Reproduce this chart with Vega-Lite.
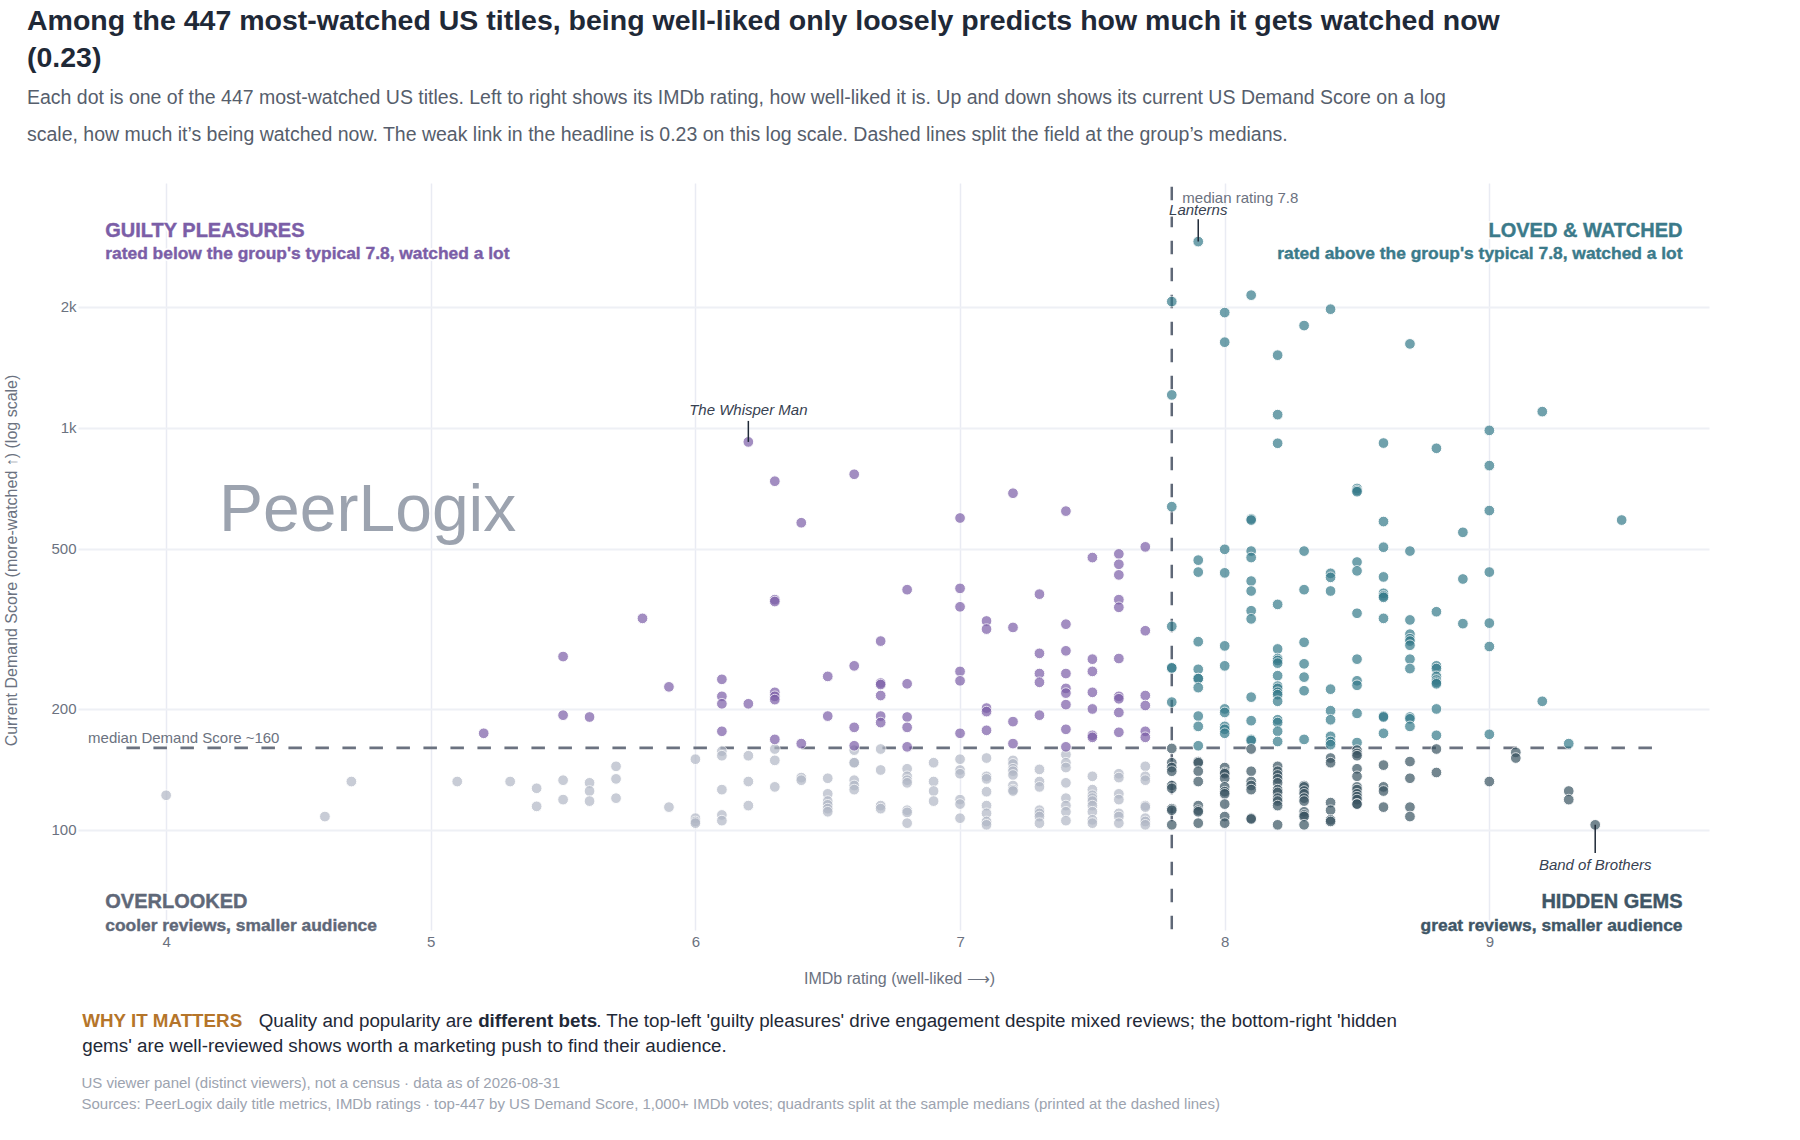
{
  "$schema": "https://vega.github.io/schema/vega-lite/v6.json",
  "width": 1631,
  "height": 747,
  "autosize": "none",
  "padding": {"left": 78, "right": 91, "top": 183, "bottom": 210},
  "background": "white",
  "config": {"font": "Liberation Sans", "view": {"stroke": null}},
  "title": {
    "text": ["Among the 447 most-watched US titles, being well-liked only loosely predicts how much it gets watched now", "(0.23)"],
    "subtitle": ["Each dot is one of the 447 most-watched US titles. Left to right shows its IMDb rating, how well-liked it is. Up and down shows its current US Demand Score on a log", "scale, how much it’s being watched now. The weak link in the headline is 0.23 on this log scale. Dashed lines split the field at the group’s medians."],
    "anchor": "start",
    "frame": "group",
    "dx": -51,
    "offset": 39,
    "fontSize": 28.5,
    "fontWeight": "bold",
    "lineHeight": 37,
    "color": "#1f2937",
    "subtitleFontSize": 19.5,
    "subtitleColor": "#565e6c",
    "subtitleLineHeight": 37,
    "subtitlePadding": 16
  },
  "encoding": {
    "x": {
      "field": "rating",
      "type": "quantitative",
      "scale": {"domain": [3.667, 9.83], "nice": false, "zero": false},
      "axis": {
        "title": "IMDb rating  (well-liked ⟶)",
        "titleFontSize": 16,
        "titleFontWeight": "normal",
        "titleColor": "#6b7280",
        "titlePadding": 21,
        "titleX": 821,
        "values": [4, 5, 6, 7, 8, 9],
        "labelFontSize": 15,
        "labelColor": "#6b7280",
        "labelPadding": 4,
        "ticks": false,
        "domain": false,
        "gridColor": "#e9ebf3",
        "gridWidth": 1.5
      }
    },
    "y": {
      "field": "demand",
      "type": "quantitative",
      "scale": {"type": "log", "domain": [56.4, 4066], "nice": false},
      "axis": {
        "title": "Current Demand Score  (more-watched ↑) (log scale)",
        "titleFontSize": 16,
        "titleFontWeight": "normal",
        "titleColor": "#6b7280",
        "titlePadding": 31,
        "titleY": 377,
        "values": [100, 200, 500, 1000, 2000],
        "labelExpr": "datum.value >= 1000 ? (datum.value / 1000) + 'k' : datum.value",
        "labelFontSize": 15,
        "labelColor": "#6b7280",
        "labelPadding": 2,
        "ticks": false,
        "domain": false,
        "gridColor": "#eef0f5",
        "gridWidth": 2
      }
    }
  },
  "layer": [
    {
      "data": {"values": [{"rating": 7.8, "demand": 3978, "demandEnd": 56.4}]},
      "mark": {"type": "rule", "color": "#5f6877", "strokeWidth": 2.5, "strokeDash": [13.5, 13.5]},
      "encoding": {"y2": {"field": "demandEnd"}}
    },
    {
      "data": {"values": [{"rating": 3.85, "ratingEnd": 9.62, "demand": 160}]},
      "mark": {"type": "rule", "color": "#6b7280", "strokeWidth": 2.8, "strokeDash": [13.5, 13.5]},
      "encoding": {"x2": {"field": "ratingEnd"}}
    },
    {
      "data": {"values": [
        {"rating":4.0,"demand":122,"quadrant":"overlooked"},{"rating":4.6,"demand":108,"quadrant":"overlooked"},{"rating":4.7,"demand":132,"quadrant":"overlooked"},{"rating":5.1,"demand":132,"quadrant":"overlooked"},{"rating":5.3,"demand":132,"quadrant":"overlooked"},
        {"rating":5.4,"demand":127,"quadrant":"overlooked"},{"rating":5.4,"demand":114.5,"quadrant":"overlooked"},{"rating":5.5,"demand":133,"quadrant":"overlooked"},{"rating":5.5,"demand":119,"quadrant":"overlooked"},
        {"rating":5.6,"demand":131,"quadrant":"overlooked"},{"rating":5.6,"demand":125,"quadrant":"overlooked"},{"rating":5.6,"demand":118,"quadrant":"overlooked"},{"rating":5.7,"demand":144,"quadrant":"overlooked"},{"rating":5.7,"demand":134,"quadrant":"overlooked"},{"rating":5.7,"demand":120,"quadrant":"overlooked"},
        {"rating":5.9,"demand":114,"quadrant":"overlooked"},{"rating":6.0,"demand":150,"quadrant":"overlooked"},{"rating":6.0,"demand":107,"quadrant":"overlooked"},{"rating":6.0,"demand":105,"quadrant":"overlooked"},{"rating":6.0,"demand":104,"quadrant":"overlooked"},
        {"rating":6.1,"demand":157,"quadrant":"overlooked"},{"rating":6.1,"demand":153,"quadrant":"overlooked"},{"rating":6.1,"demand":126,"quadrant":"overlooked"},{"rating":6.1,"demand":109,"quadrant":"overlooked"},{"rating":6.1,"demand":105.5,"quadrant":"overlooked"},
        {"rating":6.2,"demand":153,"quadrant":"overlooked"},{"rating":6.2,"demand":132,"quadrant":"overlooked"},{"rating":6.2,"demand":115,"quadrant":"overlooked"},{"rating":6.3,"demand":159,"quadrant":"overlooked"},{"rating":6.3,"demand":149,"quadrant":"overlooked"},{"rating":6.3,"demand":128,"quadrant":"overlooked"},
        {"rating":6.4,"demand":135,"quadrant":"overlooked"},{"rating":6.4,"demand":133,"quadrant":"overlooked"},{"rating":6.5,"demand":134.5,"quadrant":"overlooked"},{"rating":6.5,"demand":123,"quadrant":"overlooked"},{"rating":6.5,"demand":118,"quadrant":"overlooked"},{"rating":6.5,"demand":115.5,"quadrant":"overlooked"},{"rating":6.5,"demand":113,"quadrant":"overlooked"},{"rating":6.5,"demand":111,"quadrant":"overlooked"},
        {"rating":6.6,"demand":158,"quadrant":"overlooked"},{"rating":6.6,"demand":147,"quadrant":"overlooked"},{"rating":6.6,"demand":147,"quadrant":"overlooked"},{"rating":6.6,"demand":133,"quadrant":"overlooked"},{"rating":6.6,"demand":129,"quadrant":"overlooked"},{"rating":6.6,"demand":126,"quadrant":"overlooked"},
        {"rating":6.7,"demand":159,"quadrant":"overlooked"},{"rating":6.7,"demand":141,"quadrant":"overlooked"},{"rating":6.7,"demand":115,"quadrant":"overlooked"},{"rating":6.7,"demand":113,"quadrant":"overlooked"},
        {"rating":6.8,"demand":142,"quadrant":"overlooked"},{"rating":6.8,"demand":136,"quadrant":"overlooked"},{"rating":6.8,"demand":133,"quadrant":"overlooked"},{"rating":6.8,"demand":131,"quadrant":"overlooked"},{"rating":6.8,"demand":112,"quadrant":"overlooked"},{"rating":6.8,"demand":110.6,"quadrant":"overlooked"},{"rating":6.8,"demand":104,"quadrant":"overlooked"},
        {"rating":6.9,"demand":147,"quadrant":"overlooked"},{"rating":6.9,"demand":132,"quadrant":"overlooked"},{"rating":6.9,"demand":125,"quadrant":"overlooked"},{"rating":6.9,"demand":118,"quadrant":"overlooked"},
        {"rating":7.0,"demand":150,"quadrant":"overlooked"},{"rating":7.0,"demand":141,"quadrant":"overlooked"},{"rating":7.0,"demand":138,"quadrant":"overlooked"},{"rating":7.0,"demand":119,"quadrant":"overlooked"},{"rating":7.0,"demand":116,"quadrant":"overlooked"},{"rating":7.0,"demand":107,"quadrant":"overlooked"},
        {"rating":7.1,"demand":151,"quadrant":"overlooked"},{"rating":7.1,"demand":136,"quadrant":"overlooked"},{"rating":7.1,"demand":134,"quadrant":"overlooked"},{"rating":7.1,"demand":124.5,"quadrant":"overlooked"},{"rating":7.1,"demand":115,"quadrant":"overlooked"},{"rating":7.1,"demand":110,"quadrant":"overlooked"},{"rating":7.1,"demand":105,"quadrant":"overlooked"},{"rating":7.1,"demand":103,"quadrant":"overlooked"},
        {"rating":7.2,"demand":149,"quadrant":"overlooked"},{"rating":7.2,"demand":146,"quadrant":"overlooked"},{"rating":7.2,"demand":142,"quadrant":"overlooked"},{"rating":7.2,"demand":140,"quadrant":"overlooked"},{"rating":7.2,"demand":137,"quadrant":"overlooked"},{"rating":7.2,"demand":129,"quadrant":"overlooked"},{"rating":7.2,"demand":126,"quadrant":"overlooked"},{"rating":7.2,"demand":125,"quadrant":"overlooked"},
        {"rating":7.3,"demand":141.5,"quadrant":"overlooked"},{"rating":7.3,"demand":132,"quadrant":"overlooked"},{"rating":7.3,"demand":128,"quadrant":"overlooked"},{"rating":7.3,"demand":112,"quadrant":"overlooked"},{"rating":7.3,"demand":110,"quadrant":"overlooked"},{"rating":7.3,"demand":108,"quadrant":"overlooked"},{"rating":7.3,"demand":104,"quadrant":"overlooked"},
        {"rating":7.4,"demand":154,"quadrant":"overlooked"},{"rating":7.4,"demand":147,"quadrant":"overlooked"},{"rating":7.4,"demand":143,"quadrant":"overlooked"},{"rating":7.4,"demand":131,"quadrant":"overlooked"},{"rating":7.4,"demand":120,"quadrant":"overlooked"},{"rating":7.4,"demand":115,"quadrant":"overlooked"},{"rating":7.4,"demand":111,"quadrant":"overlooked"},{"rating":7.4,"demand":105.5,"quadrant":"overlooked"},
        {"rating":7.5,"demand":136,"quadrant":"overlooked"},{"rating":7.5,"demand":126,"quadrant":"overlooked"},{"rating":7.5,"demand":122,"quadrant":"overlooked"},{"rating":7.5,"demand":120,"quadrant":"overlooked"},{"rating":7.5,"demand":118,"quadrant":"overlooked"},{"rating":7.5,"demand":115,"quadrant":"overlooked"},{"rating":7.5,"demand":111,"quadrant":"overlooked"},{"rating":7.5,"demand":106,"quadrant":"overlooked"},{"rating":7.5,"demand":104,"quadrant":"overlooked"},
        {"rating":7.6,"demand":138,"quadrant":"overlooked"},{"rating":7.6,"demand":135,"quadrant":"overlooked"},{"rating":7.6,"demand":123,"quadrant":"overlooked"},{"rating":7.6,"demand":119,"quadrant":"overlooked"},{"rating":7.6,"demand":110,"quadrant":"overlooked"},{"rating":7.6,"demand":108,"quadrant":"overlooked"},{"rating":7.6,"demand":104,"quadrant":"overlooked"},
        {"rating":7.7,"demand":144,"quadrant":"overlooked"},{"rating":7.7,"demand":136,"quadrant":"overlooked"},{"rating":7.7,"demand":133,"quadrant":"overlooked"},{"rating":7.7,"demand":115,"quadrant":"overlooked"},{"rating":7.7,"demand":114,"quadrant":"overlooked"},{"rating":7.7,"demand":107,"quadrant":"overlooked"},{"rating":7.7,"demand":105,"quadrant":"overlooked"},{"rating":7.7,"demand":103,"quadrant":"overlooked"},

        {"rating":5.2,"demand":174,"quadrant":"guilty"},{"rating":5.5,"demand":270,"quadrant":"guilty"},{"rating":5.5,"demand":193,"quadrant":"guilty"},{"rating":5.6,"demand":191,"quadrant":"guilty"},{"rating":5.8,"demand":336,"quadrant":"guilty"},{"rating":5.9,"demand":227,"quadrant":"guilty"},
        {"rating":6.1,"demand":237,"quadrant":"guilty"},{"rating":6.1,"demand":215,"quadrant":"guilty"},{"rating":6.1,"demand":206,"quadrant":"guilty"},{"rating":6.1,"demand":176,"quadrant":"guilty"},{"rating":6.2,"demand":923,"quadrant":"guilty"},{"rating":6.2,"demand":206,"quadrant":"guilty"},
        {"rating":6.3,"demand":737,"quadrant":"guilty"},{"rating":6.3,"demand":374,"quadrant":"guilty"},{"rating":6.3,"demand":370,"quadrant":"guilty"},{"rating":6.3,"demand":220,"quadrant":"guilty"},{"rating":6.3,"demand":215,"quadrant":"guilty"},{"rating":6.3,"demand":211,"quadrant":"guilty"},{"rating":6.3,"demand":168,"quadrant":"guilty"},
        {"rating":6.4,"demand":581,"quadrant":"guilty"},{"rating":6.4,"demand":164,"quadrant":"guilty"},{"rating":6.5,"demand":241,"quadrant":"guilty"},{"rating":6.5,"demand":192,"quadrant":"guilty"},{"rating":6.6,"demand":767,"quadrant":"guilty"},{"rating":6.6,"demand":256,"quadrant":"guilty"},{"rating":6.6,"demand":180,"quadrant":"guilty"},{"rating":6.6,"demand":162,"quadrant":"guilty"},
        {"rating":6.7,"demand":295,"quadrant":"guilty"},{"rating":6.7,"demand":232,"quadrant":"guilty"},{"rating":6.7,"demand":230,"quadrant":"guilty"},{"rating":6.7,"demand":216,"quadrant":"guilty"},{"rating":6.7,"demand":192,"quadrant":"guilty"},{"rating":6.7,"demand":185,"quadrant":"guilty"},
        {"rating":6.8,"demand":396,"quadrant":"guilty"},{"rating":6.8,"demand":231,"quadrant":"guilty"},{"rating":6.8,"demand":191,"quadrant":"guilty"},{"rating":6.8,"demand":180,"quadrant":"guilty"},{"rating":6.8,"demand":161,"quadrant":"guilty"},
        {"rating":7.0,"demand":597,"quadrant":"guilty"},{"rating":7.0,"demand":399,"quadrant":"guilty"},{"rating":7.0,"demand":359,"quadrant":"guilty"},{"rating":7.0,"demand":248,"quadrant":"guilty"},{"rating":7.0,"demand":235,"quadrant":"guilty"},{"rating":7.0,"demand":174,"quadrant":"guilty"},
        {"rating":7.1,"demand":331,"quadrant":"guilty"},{"rating":7.1,"demand":316,"quadrant":"guilty"},{"rating":7.1,"demand":201,"quadrant":"guilty"},{"rating":7.1,"demand":197,"quadrant":"guilty"},{"rating":7.1,"demand":177,"quadrant":"guilty"},
        {"rating":7.2,"demand":688,"quadrant":"guilty"},{"rating":7.2,"demand":319,"quadrant":"guilty"},{"rating":7.2,"demand":186,"quadrant":"guilty"},{"rating":7.2,"demand":164,"quadrant":"guilty"},
        {"rating":7.3,"demand":386,"quadrant":"guilty"},{"rating":7.3,"demand":275,"quadrant":"guilty"},{"rating":7.3,"demand":245,"quadrant":"guilty"},{"rating":7.3,"demand":233,"quadrant":"guilty"},{"rating":7.3,"demand":193,"quadrant":"guilty"},
        {"rating":7.4,"demand":621,"quadrant":"guilty"},{"rating":7.4,"demand":325,"quadrant":"guilty"},{"rating":7.4,"demand":279,"quadrant":"guilty"},{"rating":7.4,"demand":245,"quadrant":"guilty"},{"rating":7.4,"demand":225,"quadrant":"guilty"},{"rating":7.4,"demand":219,"quadrant":"guilty"},{"rating":7.4,"demand":205,"quadrant":"guilty"},{"rating":7.4,"demand":178,"quadrant":"guilty"},{"rating":7.4,"demand":161,"quadrant":"guilty"},
        {"rating":7.5,"demand":476,"quadrant":"guilty"},{"rating":7.5,"demand":266,"quadrant":"guilty"},{"rating":7.5,"demand":248,"quadrant":"guilty"},{"rating":7.5,"demand":220,"quadrant":"guilty"},{"rating":7.5,"demand":200,"quadrant":"guilty"},{"rating":7.5,"demand":172,"quadrant":"guilty"},{"rating":7.5,"demand":170,"quadrant":"guilty"},
        {"rating":7.6,"demand":486,"quadrant":"guilty"},{"rating":7.6,"demand":458,"quadrant":"guilty"},{"rating":7.6,"demand":431,"quadrant":"guilty"},{"rating":7.6,"demand":374,"quadrant":"guilty"},{"rating":7.6,"demand":358,"quadrant":"guilty"},{"rating":7.6,"demand":267,"quadrant":"guilty"},{"rating":7.6,"demand":215,"quadrant":"guilty"},{"rating":7.6,"demand":212,"quadrant":"guilty"},{"rating":7.6,"demand":196,"quadrant":"guilty"},{"rating":7.6,"demand":175,"quadrant":"guilty"},
        {"rating":7.7,"demand":506,"quadrant":"guilty"},{"rating":7.7,"demand":313,"quadrant":"guilty"},{"rating":7.7,"demand":216,"quadrant":"guilty"},{"rating":7.7,"demand":204,"quadrant":"guilty"},{"rating":7.7,"demand":176,"quadrant":"guilty"},{"rating":7.7,"demand":170,"quadrant":"guilty"},

        {"rating":7.8,"demand":2062,"quadrant":"loved"},{"rating":7.8,"demand":1208,"quadrant":"loved"},{"rating":7.8,"demand":637,"quadrant":"loved"},{"rating":7.8,"demand":321,"quadrant":"loved"},{"rating":7.8,"demand":253,"quadrant":"loved"},{"rating":7.8,"demand":253,"quadrant":"loved"},{"rating":7.8,"demand":208,"quadrant":"loved"},
        {"rating":7.9,"demand":2907,"quadrant":"loved"},{"rating":7.9,"demand":469,"quadrant":"loved"},{"rating":7.9,"demand":438,"quadrant":"loved"},{"rating":7.9,"demand":294,"quadrant":"loved"},{"rating":7.9,"demand":251,"quadrant":"loved"},{"rating":7.9,"demand":238,"quadrant":"loved"},{"rating":7.9,"demand":238,"quadrant":"loved"},{"rating":7.9,"demand":226,"quadrant":"loved"},{"rating":7.9,"demand":192,"quadrant":"loved"},{"rating":7.9,"demand":181,"quadrant":"loved"},{"rating":7.9,"demand":162,"quadrant":"loved"},
        {"rating":8.0,"demand":1936,"quadrant":"loved"},{"rating":8.0,"demand":1634,"quadrant":"loved"},{"rating":8.0,"demand":499,"quadrant":"loved"},{"rating":8.0,"demand":436,"quadrant":"loved"},{"rating":8.0,"demand":287,"quadrant":"loved"},{"rating":8.0,"demand":256,"quadrant":"loved"},{"rating":8.0,"demand":200,"quadrant":"loved"},{"rating":8.0,"demand":196,"quadrant":"loved"},{"rating":8.0,"demand":181,"quadrant":"loved"},{"rating":8.0,"demand":178,"quadrant":"loved"},{"rating":8.0,"demand":174,"quadrant":"loved"},
        {"rating":8.1,"demand":2139,"quadrant":"loved"},{"rating":8.1,"demand":594,"quadrant":"loved"},{"rating":8.1,"demand":590,"quadrant":"loved"},{"rating":8.1,"demand":494,"quadrant":"loved"},{"rating":8.1,"demand":476,"quadrant":"loved"},{"rating":8.1,"demand":416,"quadrant":"loved"},{"rating":8.1,"demand":393,"quadrant":"loved"},{"rating":8.1,"demand":351,"quadrant":"loved"},{"rating":8.1,"demand":335,"quadrant":"loved"},{"rating":8.1,"demand":214,"quadrant":"loved"},{"rating":8.1,"demand":187,"quadrant":"loved"},{"rating":8.1,"demand":168,"quadrant":"loved"},{"rating":8.1,"demand":167,"quadrant":"loved"},
        {"rating":8.2,"demand":1517,"quadrant":"loved"},{"rating":8.2,"demand":1079,"quadrant":"loved"},{"rating":8.2,"demand":916,"quadrant":"loved"},{"rating":8.2,"demand":364,"quadrant":"loved"},{"rating":8.2,"demand":282,"quadrant":"loved"},{"rating":8.2,"demand":267,"quadrant":"loved"},{"rating":8.2,"demand":264,"quadrant":"loved"},{"rating":8.2,"demand":260,"quadrant":"loved"},{"rating":8.2,"demand":242,"quadrant":"loved"},{"rating":8.2,"demand":228,"quadrant":"loved"},{"rating":8.2,"demand":225,"quadrant":"loved"},{"rating":8.2,"demand":220,"quadrant":"loved"},{"rating":8.2,"demand":217,"quadrant":"loved"},{"rating":8.2,"demand":209,"quadrant":"loved"},{"rating":8.2,"demand":188,"quadrant":"loved"},{"rating":8.2,"demand":185,"quadrant":"loved"},{"rating":8.2,"demand":176,"quadrant":"loved"},{"rating":8.2,"demand":166,"quadrant":"loved"},
        {"rating":8.3,"demand":1797,"quadrant":"loved"},{"rating":8.3,"demand":494,"quadrant":"loved"},{"rating":8.3,"demand":396,"quadrant":"loved"},{"rating":8.3,"demand":293,"quadrant":"loved"},{"rating":8.3,"demand":259,"quadrant":"loved"},{"rating":8.3,"demand":240,"quadrant":"loved"},{"rating":8.3,"demand":222,"quadrant":"loved"},{"rating":8.3,"demand":168,"quadrant":"loved"},
        {"rating":8.4,"demand":1974,"quadrant":"loved"},{"rating":8.4,"demand":435,"quadrant":"loved"},{"rating":8.4,"demand":425,"quadrant":"loved"},{"rating":8.4,"demand":393,"quadrant":"loved"},{"rating":8.4,"demand":224,"quadrant":"loved"},{"rating":8.4,"demand":198,"quadrant":"loved"},{"rating":8.4,"demand":188,"quadrant":"loved"},{"rating":8.4,"demand":171,"quadrant":"loved"},{"rating":8.4,"demand":166,"quadrant":"loved"},{"rating":8.4,"demand":163,"quadrant":"loved"},
        {"rating":8.5,"demand":707,"quadrant":"loved"},{"rating":8.5,"demand":699,"quadrant":"loved"},{"rating":8.5,"demand":694,"quadrant":"loved"},{"rating":8.5,"demand":464,"quadrant":"loved"},{"rating":8.5,"demand":441,"quadrant":"loved"},{"rating":8.5,"demand":346,"quadrant":"loved"},{"rating":8.5,"demand":266,"quadrant":"loved"},{"rating":8.5,"demand":235,"quadrant":"loved"},{"rating":8.5,"demand":229,"quadrant":"loved"},{"rating":8.5,"demand":195,"quadrant":"loved"},{"rating":8.5,"demand":165,"quadrant":"loved"},
        {"rating":8.6,"demand":917,"quadrant":"loved"},{"rating":8.6,"demand":585,"quadrant":"loved"},{"rating":8.6,"demand":505,"quadrant":"loved"},{"rating":8.6,"demand":426,"quadrant":"loved"},{"rating":8.6,"demand":388,"quadrant":"loved"},{"rating":8.6,"demand":382,"quadrant":"loved"},{"rating":8.6,"demand":379,"quadrant":"loved"},{"rating":8.6,"demand":336,"quadrant":"loved"},{"rating":8.6,"demand":192,"quadrant":"loved"},{"rating":8.6,"demand":191,"quadrant":"loved"},{"rating":8.6,"demand":174,"quadrant":"loved"},
        {"rating":8.7,"demand":1618,"quadrant":"loved"},{"rating":8.7,"demand":494,"quadrant":"loved"},{"rating":8.7,"demand":333,"quadrant":"loved"},{"rating":8.7,"demand":307,"quadrant":"loved"},{"rating":8.7,"demand":299,"quadrant":"loved"},{"rating":8.7,"demand":295,"quadrant":"loved"},{"rating":8.7,"demand":288,"quadrant":"loved"},{"rating":8.7,"demand":266,"quadrant":"loved"},{"rating":8.7,"demand":252,"quadrant":"loved"},{"rating":8.7,"demand":191,"quadrant":"loved"},{"rating":8.7,"demand":189,"quadrant":"loved"},{"rating":8.7,"demand":181,"quadrant":"loved"},
        {"rating":8.8,"demand":890,"quadrant":"loved"},{"rating":8.8,"demand":349,"quadrant":"loved"},{"rating":8.8,"demand":256,"quadrant":"loved"},{"rating":8.8,"demand":252,"quadrant":"loved"},{"rating":8.8,"demand":241,"quadrant":"loved"},{"rating":8.8,"demand":236,"quadrant":"loved"},{"rating":8.8,"demand":233,"quadrant":"loved"},{"rating":8.8,"demand":231,"quadrant":"loved"},{"rating":8.8,"demand":200,"quadrant":"loved"},{"rating":8.8,"demand":172,"quadrant":"loved"},
        {"rating":8.9,"demand":550,"quadrant":"loved"},{"rating":8.9,"demand":421,"quadrant":"loved"},{"rating":8.9,"demand":326,"quadrant":"loved"},
        {"rating":9.0,"demand":986,"quadrant":"loved"},{"rating":9.0,"demand":806,"quadrant":"loved"},{"rating":9.0,"demand":623,"quadrant":"loved"},{"rating":9.0,"demand":438,"quadrant":"loved"},{"rating":9.0,"demand":327,"quadrant":"loved"},{"rating":9.0,"demand":286,"quadrant":"loved"},{"rating":9.0,"demand":173,"quadrant":"loved"},
        {"rating":9.2,"demand":1098,"quadrant":"loved"},{"rating":9.2,"demand":209,"quadrant":"loved"},{"rating":9.3,"demand":164,"quadrant":"loved"},{"rating":9.5,"demand":590,"quadrant":"loved"},

        {"rating":7.8,"demand":159.5,"quadrant":"hidden"},{"rating":7.8,"demand":147,"quadrant":"hidden"},{"rating":7.8,"demand":143,"quadrant":"hidden"},{"rating":7.8,"demand":140,"quadrant":"hidden"},{"rating":7.8,"demand":129,"quadrant":"hidden"},{"rating":7.8,"demand":127,"quadrant":"hidden"},{"rating":7.8,"demand":113,"quadrant":"hidden"},{"rating":7.8,"demand":112,"quadrant":"hidden"},{"rating":7.8,"demand":103,"quadrant":"hidden"},
        {"rating":7.9,"demand":148,"quadrant":"hidden"},{"rating":7.9,"demand":147,"quadrant":"hidden"},{"rating":7.9,"demand":140,"quadrant":"hidden"},{"rating":7.9,"demand":132,"quadrant":"hidden"},{"rating":7.9,"demand":115,"quadrant":"hidden"},{"rating":7.9,"demand":112,"quadrant":"hidden"},{"rating":7.9,"demand":111,"quadrant":"hidden"},{"rating":7.9,"demand":104,"quadrant":"hidden"},
        {"rating":8.0,"demand":143,"quadrant":"hidden"},{"rating":8.0,"demand":139,"quadrant":"hidden"},{"rating":8.0,"demand":138,"quadrant":"hidden"},{"rating":8.0,"demand":134.5,"quadrant":"hidden"},{"rating":8.0,"demand":128,"quadrant":"hidden"},{"rating":8.0,"demand":124.5,"quadrant":"hidden"},{"rating":8.0,"demand":123,"quadrant":"hidden"},{"rating":8.0,"demand":116,"quadrant":"hidden"},{"rating":8.0,"demand":108,"quadrant":"hidden"},{"rating":8.0,"demand":104,"quadrant":"hidden"},
        {"rating":8.1,"demand":159,"quadrant":"hidden"},{"rating":8.1,"demand":140,"quadrant":"hidden"},{"rating":8.1,"demand":132,"quadrant":"hidden"},{"rating":8.1,"demand":129,"quadrant":"hidden"},{"rating":8.1,"demand":126,"quadrant":"hidden"},{"rating":8.1,"demand":107,"quadrant":"hidden"},{"rating":8.1,"demand":106.5,"quadrant":"hidden"},
        {"rating":8.2,"demand":144,"quadrant":"hidden"},{"rating":8.2,"demand":140,"quadrant":"hidden"},{"rating":8.2,"demand":137,"quadrant":"hidden"},{"rating":8.2,"demand":134,"quadrant":"hidden"},{"rating":8.2,"demand":131,"quadrant":"hidden"},{"rating":8.2,"demand":126,"quadrant":"hidden"},{"rating":8.2,"demand":124,"quadrant":"hidden"},{"rating":8.2,"demand":120,"quadrant":"hidden"},{"rating":8.2,"demand":118,"quadrant":"hidden"},{"rating":8.2,"demand":115,"quadrant":"hidden"},{"rating":8.2,"demand":103,"quadrant":"hidden"},
        {"rating":8.3,"demand":129,"quadrant":"hidden"},{"rating":8.3,"demand":128,"quadrant":"hidden"},{"rating":8.3,"demand":125,"quadrant":"hidden"},{"rating":8.3,"demand":123,"quadrant":"hidden"},{"rating":8.3,"demand":120,"quadrant":"hidden"},{"rating":8.3,"demand":118,"quadrant":"hidden"},{"rating":8.3,"demand":111,"quadrant":"hidden"},{"rating":8.3,"demand":109,"quadrant":"hidden"},{"rating":8.3,"demand":108,"quadrant":"hidden"},{"rating":8.3,"demand":103,"quadrant":"hidden"},
        {"rating":8.4,"demand":151,"quadrant":"hidden"},{"rating":8.4,"demand":147,"quadrant":"hidden"},{"rating":8.4,"demand":117,"quadrant":"hidden"},{"rating":8.4,"demand":112,"quadrant":"hidden"},{"rating":8.4,"demand":106,"quadrant":"hidden"},{"rating":8.4,"demand":105,"quadrant":"hidden"},
        {"rating":8.5,"demand":158,"quadrant":"hidden"},{"rating":8.5,"demand":155,"quadrant":"hidden"},{"rating":8.5,"demand":153,"quadrant":"hidden"},{"rating":8.5,"demand":142,"quadrant":"hidden"},{"rating":8.5,"demand":136,"quadrant":"hidden"},{"rating":8.5,"demand":128,"quadrant":"hidden"},{"rating":8.5,"demand":126,"quadrant":"hidden"},{"rating":8.5,"demand":123,"quadrant":"hidden"},{"rating":8.5,"demand":121,"quadrant":"hidden"},{"rating":8.5,"demand":119,"quadrant":"hidden"},{"rating":8.5,"demand":116,"quadrant":"hidden"},{"rating":8.5,"demand":116,"quadrant":"hidden"},
        {"rating":8.6,"demand":145,"quadrant":"hidden"},{"rating":8.6,"demand":128,"quadrant":"hidden"},{"rating":8.6,"demand":125,"quadrant":"hidden"},{"rating":8.6,"demand":114,"quadrant":"hidden"},
        {"rating":8.7,"demand":148,"quadrant":"hidden"},{"rating":8.7,"demand":134.5,"quadrant":"hidden"},{"rating":8.7,"demand":114,"quadrant":"hidden"},{"rating":8.7,"demand":108,"quadrant":"hidden"},
        {"rating":8.8,"demand":159,"quadrant":"hidden"},{"rating":8.8,"demand":139,"quadrant":"hidden"},{"rating":9.0,"demand":132,"quadrant":"hidden"},{"rating":9.1,"demand":156,"quadrant":"hidden"},{"rating":9.1,"demand":151,"quadrant":"hidden"},{"rating":9.3,"demand":125,"quadrant":"hidden"},{"rating":9.3,"demand":119,"quadrant":"hidden"},{"rating":9.4,"demand":103,"quadrant":"hidden"}
      ]},
      "mark": {"type": "point", "shape": "circle", "filled": true, "size": 115, "opacity": 0.7, "stroke": "white", "strokeWidth": 1},
      "encoding": {
        "color": {
          "field": "quadrant",
          "type": "nominal",
          "legend": null,
          "scale": {"domain": ["guilty", "loved", "overlooked", "hidden"], "range": ["#7b5ea7", "#357a8a", "#b1b7c5", "#395361"]}
        }
      }
    },
    {
      "data": {"values": [
        {"rating": 7.9, "demand": 3305, "demandEnd": 2907},
        {"rating": 6.2, "demand": 1041, "demandEnd": 923},
        {"rating": 9.4, "demand": 103, "demandEnd": 87.7}
      ]},
      "mark": {"type": "rule", "color": "#1f2937", "strokeWidth": 1.5},
      "encoding": {"y2": {"field": "demandEnd"}}
    },
    {
      "data": {"values": [{"rating": 4.2, "demand": 621, "label": "PeerLogix"}]},
      "mark": {"type": "text", "align": "left", "baseline": "middle", "fontSize": 66, "color": "#9ca3af"},
      "encoding": {"text": {"field": "label"}}
    },
    {
      "data": {"values": [
        {"rating": 7.84, "demand": 3738, "label": "median rating 7.8"},
        {"rating": 3.705, "demand": 169.7, "label": "median Demand Score ~160"}
      ]},
      "mark": {"type": "text", "align": "left", "baseline": "middle", "fontSize": 15, "color": "#6b7280"},
      "encoding": {"text": {"field": "label"}}
    },
    {
      "data": {"values": [
        {"rating": 7.9, "demand": 3485, "label": "Lanterns"},
        {"rating": 6.2, "demand": 1109, "label": "The Whisper Man"},
        {"rating": 9.4, "demand": 81.8, "label": "Band of Brothers"}
      ]},
      "mark": {"type": "text", "align": "center", "baseline": "middle", "fontSize": 15, "fontStyle": "italic", "stroke": "white", "strokeWidth": 3},
      "encoding": {"text": {"field": "label"}}
    },
    {
      "data": {"values": [
        {"rating": 7.9, "demand": 3485, "label": "Lanterns"},
        {"rating": 6.2, "demand": 1109, "label": "The Whisper Man"},
        {"rating": 9.4, "demand": 81.8, "label": "Band of Brothers"}
      ]},
      "mark": {"type": "text", "align": "center", "baseline": "middle", "fontSize": 15, "fontStyle": "italic", "color": "#374151"},
      "encoding": {"text": {"field": "label"}}
    },
    {
      "data": {"values": [
        {"rating": 3.77, "demand": 3082, "label": "GUILTY PLEASURES"},
        {"rating": 3.77, "demand": 66.3, "label": "OVERLOOKED"}
      ]},
      "mark": {"type": "text", "align": "left", "baseline": "middle", "fontSize": 20, "fontWeight": "bold", "stroke": "white", "strokeWidth": 4},
      "encoding": {"text": {"field": "label"}}
    },
    {
      "data": {"values": [
        {"rating": 9.73, "demand": 3082, "label": "LOVED & WATCHED"},
        {"rating": 9.73, "demand": 66.3, "label": "HIDDEN GEMS"}
      ]},
      "mark": {"type": "text", "align": "right", "baseline": "middle", "fontSize": 20, "fontWeight": "bold", "stroke": "white", "strokeWidth": 4},
      "encoding": {"text": {"field": "label"}}
    },
    {
      "data": {"values": [
        {"rating": 3.77, "demand": 2710, "label": "rated below the group's typical 7.8, watched a lot"},
        {"rating": 3.77, "demand": 57.7, "label": "cooler reviews, smaller audience"}
      ]},
      "mark": {"type": "text", "align": "left", "baseline": "middle", "fontSize": 17.4, "fontWeight": "bold", "stroke": "white", "strokeWidth": 4},
      "encoding": {"text": {"field": "label"}}
    },
    {
      "data": {"values": [
        {"rating": 9.73, "demand": 2710, "label": "rated above the group's typical 7.8, watched a lot"},
        {"rating": 9.73, "demand": 57.7, "label": "great reviews, smaller audience"}
      ]},
      "mark": {"type": "text", "align": "right", "baseline": "middle", "fontSize": 17.4, "fontWeight": "bold", "stroke": "white", "strokeWidth": 4},
      "encoding": {"text": {"field": "label"}}
    },
    {
      "data": {"values": [{"rating": 3.77, "demand": 3082, "label": "GUILTY PLEASURES"}]},
      "mark": {"type": "text", "align": "left", "baseline": "middle", "fontSize": 20, "fontWeight": "bold", "color": "#7b5ea7", "stroke": "#7b5ea7", "strokeWidth": 0.4},
      "encoding": {"text": {"field": "label"}}
    },
    {
      "data": {"values": [{"rating": 3.77, "demand": 2710, "label": "rated below the group's typical 7.8, watched a lot"}]},
      "mark": {"type": "text", "align": "left", "baseline": "middle", "fontSize": 17.4, "fontWeight": "bold", "color": "#7b5ea7", "stroke": "#7b5ea7", "strokeWidth": 0.4},
      "encoding": {"text": {"field": "label"}}
    },
    {
      "data": {"values": [{"rating": 9.73, "demand": 3082, "label": "LOVED & WATCHED"}]},
      "mark": {"type": "text", "align": "right", "baseline": "middle", "fontSize": 20, "fontWeight": "bold", "color": "#3b7a8a", "stroke": "#3b7a8a", "strokeWidth": 0.4},
      "encoding": {"text": {"field": "label"}}
    },
    {
      "data": {"values": [{"rating": 9.73, "demand": 2710, "label": "rated above the group's typical 7.8, watched a lot"}]},
      "mark": {"type": "text", "align": "right", "baseline": "middle", "fontSize": 17.4, "fontWeight": "bold", "color": "#3b7a8a", "stroke": "#3b7a8a", "strokeWidth": 0.4},
      "encoding": {"text": {"field": "label"}}
    },
    {
      "data": {"values": [{"rating": 3.77, "demand": 66.3, "label": "OVERLOOKED"}]},
      "mark": {"type": "text", "align": "left", "baseline": "middle", "fontSize": 20, "fontWeight": "bold", "color": "#5f6878", "stroke": "#5f6878", "strokeWidth": 0.4},
      "encoding": {"text": {"field": "label"}}
    },
    {
      "data": {"values": [{"rating": 3.77, "demand": 57.7, "label": "cooler reviews, smaller audience"}]},
      "mark": {"type": "text", "align": "left", "baseline": "middle", "fontSize": 17.4, "fontWeight": "bold", "color": "#5f6878", "stroke": "#5f6878", "strokeWidth": 0.4},
      "encoding": {"text": {"field": "label"}}
    },
    {
      "data": {"values": [{"rating": 9.73, "demand": 66.3, "label": "HIDDEN GEMS"}]},
      "mark": {"type": "text", "align": "right", "baseline": "middle", "fontSize": 20, "fontWeight": "bold", "color": "#3f5666", "stroke": "#3f5666", "strokeWidth": 0.4},
      "encoding": {"text": {"field": "label"}}
    },
    {
      "data": {"values": [{"rating": 9.73, "demand": 57.7, "label": "great reviews, smaller audience"}]},
      "mark": {"type": "text", "align": "right", "baseline": "middle", "fontSize": 17.4, "fontWeight": "bold", "color": "#3f5666", "stroke": "#3f5666", "strokeWidth": 0.4},
      "encoding": {"text": {"field": "label"}}
    },
    {
      "data": {"values": [{"rating": 3.683, "demand": 33.4, "label": "WHY IT MATTERS"}]},
      "mark": {"type": "text", "align": "left", "baseline": "middle", "fontSize": 18.8, "fontWeight": "bold", "color": "#b5752a"},
      "encoding": {"text": {"field": "label"}}
    },
    {
      "data": {"values": [
        {"rating": 4.35, "demand": 33.4, "label": "Quality and popularity are"},
        {"rating": 5.625, "demand": 33.4, "label": ". The top-left 'guilty pleasures' drive engagement despite mixed reviews; the bottom-right 'hidden"},
        {"rating": 3.683, "demand": 29, "label": "gems' are well-reviewed shows worth a marketing push to find their audience."}
      ]},
      "mark": {"type": "text", "align": "left", "baseline": "middle", "fontSize": 18.8, "color": "#1f2937"},
      "encoding": {"text": {"field": "label"}}
    },
    {
      "data": {"values": [{"rating": 5.179, "demand": 33.4, "label": "different bets"}]},
      "mark": {"type": "text", "align": "left", "baseline": "middle", "fontSize": 18.8, "fontWeight": "bold", "color": "#1f2937"},
      "encoding": {"text": {"field": "label"}}
    },
    {
      "data": {"values": [
        {"rating": 3.68, "demand": 23.5, "label": "US viewer panel (distinct viewers), not a census · data as of 2026-08-31"},
        {"rating": 3.68, "demand": 20.8, "label": "Sources: PeerLogix daily title metrics, IMDb ratings · top-447 by US Demand Score, 1,000+ IMDb votes; quadrants split at the sample medians (printed at the dashed lines)"}
      ]},
      "mark": {"type": "text", "align": "left", "baseline": "middle", "fontSize": 15, "color": "#9ca3af"},
      "encoding": {"text": {"field": "label"}}
    }
  ]
}
